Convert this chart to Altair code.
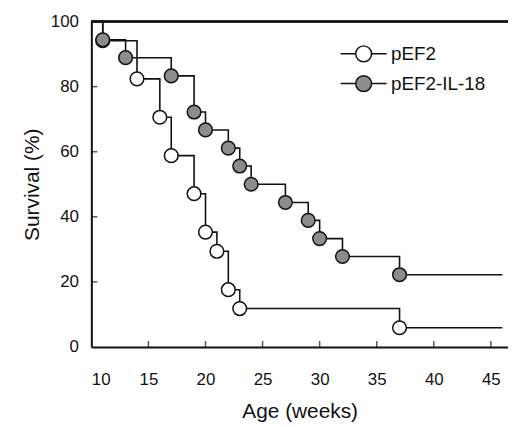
import altair as alt
import pandas as pd

# Kaplan-Meier style survival data
weeks_pef2 = [10, 11, 14, 16, 17, 19, 20, 21, 22, 23, 37, 46]
surv_pef2 = [100, 94.1, 82.4, 70.6, 58.8, 47.1, 35.3, 29.4, 17.6, 11.8, 5.9, 5.9]

weeks_il18 = [10, 11, 13, 17, 19, 20, 22, 23, 24, 27, 29, 30, 32, 37, 46]
surv_il18 = [100, 94.4, 88.9, 83.3, 72.2, 66.7, 61.1, 55.6, 50.0, 44.4, 38.9, 33.3, 27.8, 22.2, 22.2]

series_names = ["pEF2", "pEF2-IL-18"]
x_tick_values = [10, 15, 20, 25, 30, 35, 40, 45]
x_inner_ticks = [15, 20, 25, 30, 35, 40, 45]
y_tick_values = [0, 20, 40, 60, 80, 100]
y_inner_ticks = [20, 40, 60, 80]

rows = []
for name, ws, ss in [(series_names[0], weeks_pef2, surv_pef2),
                     (series_names[1], weeks_il18, surv_il18)]:
    n = len(ws)
    for i, (w, s) in enumerate(zip(ws, ss)):
        rows.append({"series": name, "week": w, "surv": s,
                     "marker": 0 < i < n - 1, "order": i})
df = pd.DataFrame(rows)

FONT = "Liberation Sans"
W, H = 420, 328

xscale = alt.Scale(domain=[10, 46.5], nice=False, zero=False)
yscale = alt.Scale(domain=[0, 100], nice=False)

xaxis = alt.Axis(values=x_tick_values, ticks=False, tickSize=0, grid=False,
                 labelFontSize=17, labelPadding=25, labelFont=FONT,
                 labelColor="#111", title="Age (weeks)", titleFont=FONT,
                 titleFontSize=21, titleFontWeight="normal", titleColor="#111",
                 titlePadding=13, domainColor="#111", domainWidth=2)
yaxis = alt.Axis(values=y_tick_values, ticks=False, tickSize=0, grid=False,
                 labelFontSize=17, labelPadding=13, labelFont=FONT,
                 labelColor="#111", title="Survival (%)", titleFont=FONT,
                 titleFontSize=21, titleFontWeight="normal", titleColor="#111",
                 titlePadding=8, domainColor="#111", domainWidth=2)

lines = alt.Chart(df).mark_line(interpolate="step-after", color="#111",
                                strokeWidth=1.6).encode(
    x=alt.X("week:Q", scale=xscale, axis=xaxis),
    y=alt.Y("surv:Q", scale=yscale, axis=yaxis),
    detail="series:N",
    order="order:Q",
)

legend_path = ("M-2.9,0H-1M1,0H2.9"
               "M-1,0A1,1 0 1,1 1,0A1,1 0 1,1 -1,0Z")

points = alt.Chart(df).transform_filter(alt.datum.marker).mark_point(
    shape="circle", filled=True, size=190, stroke="#111", strokeWidth=1.5,
    opacity=1,
).encode(
    x=alt.X("week:Q", scale=xscale),
    y=alt.Y("surv:Q", scale=yscale),
    fill=alt.Fill("series:N",
                  scale=alt.Scale(domain=series_names,
                                  range=["white", "#8c8c8c"]),
                  legend=alt.Legend(
                      title=None, orient="none", legendX=265, legendY=23,
                      symbolType=legend_path, symbolSize=256,
                      symbolStrokeColor="#111", symbolStrokeWidth=1.5,
                      symbolOpacity=1,
                      labelFont=FONT, labelFontSize=19, labelColor="#111",
                      labelOffset=18, rowPadding=7, padding=0)),
)

xt = pd.DataFrame({"t": x_inner_ticks})
yt = pd.DataFrame({"t": y_inner_ticks})

x_ticks = alt.Chart(xt).mark_tick(orient="vertical", size=6, thickness=1.5,
                                  color="#111", yOffset=-3).encode(
    x=alt.X("t:Q", scale=xscale), y=alt.datum(0))
y_ticks = alt.Chart(yt).mark_tick(orient="horizontal", size=6, thickness=1.5,
                                  color="#111", xOffset=3).encode(
    y=alt.Y("t:Q", scale=yscale), x=alt.datum(10))

top_border = alt.Chart(xt).mark_rule(color="#111", strokeWidth=1.6).encode(
    y=alt.datum(100), x=alt.value(0), x2=alt.value(W))

chart = alt.layer(top_border, lines, x_ticks, y_ticks, points).properties(
    width=W, height=H,
    autosize=alt.AutoSizeParams(type="none"),
    padding={"left": 84, "top": 12, "right": 0, "bottom": 78},
).configure_view(stroke=None).configure(background="white")

chart.save("out.html", embed_options={"renderer": "svg", "actions": False})
